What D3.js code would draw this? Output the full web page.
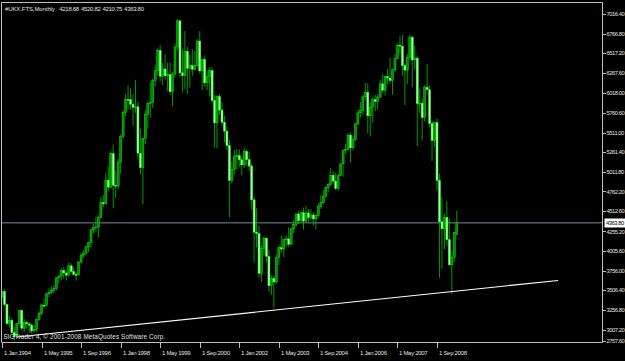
<!DOCTYPE html>
<html>
<head>
<meta charset="utf-8">
<script src="https://cdn.jsdelivr.net/npm/d3@7"></script>
<style>
  html, body { margin: 0; padding: 0; background: #000; }
  svg { display: block; }
  text { font-family: "Liberation Sans", Arial, sans-serif; }
</style>
</head>
<body>
<svg id="chart"></svg>
<script>
// monthly UKX bars, [open, high, low, close], first bar = Jan 1994
const y1994 = [
  [3418.4, 3495.0, 3406.0, 3491.8], [3491.8, 3520.3, 3300.4, 3328.1], [3328.1, 3340.0, 3070.0, 3086.4],
  [3086.4, 3185.0, 3040.0, 3125.3], [3125.3, 3160.0, 2950.0, 2970.5], [2970.5, 3040.0, 2876.6, 2919.2],
  [2919.2, 3090.0, 2900.0, 3082.6], [3082.6, 3260.0, 3070.0, 3251.3], [3251.3, 3260.0, 2990.0, 3026.3],
  [3026.3, 3140.0, 2980.0, 3097.4], [3097.4, 3120.0, 3020.0, 3081.4], [3081.4, 3100.0, 2960.0, 3065.5]
];
const y1995 = [
  [3065.5, 3085.0, 2954.0, 2991.6], [2991.6, 3070.0, 2970.0, 3009.3], [3009.3, 3150.0, 2980.0, 3137.9],
  [3137.9, 3240.0, 3120.0, 3216.7], [3216.7, 3340.0, 3190.0, 3319.4], [3319.4, 3400.0, 3280.0, 3314.6],
  [3314.6, 3480.0, 3300.0, 3463.3], [3463.3, 3530.0, 3420.0, 3477.8], [3477.8, 3560.0, 3460.0, 3508.2],
  [3508.2, 3580.0, 3470.0, 3529.1], [3529.1, 3680.0, 3510.0, 3664.3], [3664.3, 3700.0, 3600.0, 3689.3]
];
const y1996 = [
  [3689.3, 3790.0, 3630.0, 3759.3], [3759.3, 3800.0, 3650.0, 3727.6], [3727.6, 3760.0, 3630.0, 3699.7],
  [3699.7, 3860.0, 3690.0, 3817.9], [3817.9, 3850.0, 3720.0, 3747.8], [3747.8, 3800.0, 3690.0, 3711.0],
  [3711.0, 3740.0, 3630.0, 3703.2], [3703.2, 3880.0, 3700.0, 3867.6], [3867.6, 3980.0, 3840.0, 3953.7],
  [3953.7, 4020.0, 3920.0, 3979.1], [3979.1, 4080.0, 3950.0, 4058.0], [4058.0, 4120.0, 3990.0, 4118.5]
];
const y1997 = [
  [4118.5, 4290.0, 4050.0, 4275.8], [4275.8, 4350.0, 4230.0, 4308.3], [4308.3, 4440.0, 4240.0, 4312.9],
  [4312.9, 4460.0, 4180.0, 4436.0], [4436.0, 4700.0, 4420.0, 4621.3], [4621.3, 4720.0, 4560.0, 4604.6],
  [4604.6, 5000.0, 4600.0, 4907.5], [4907.5, 5080.0, 4760.0, 4817.5], [4817.5, 5270.0, 4800.0, 5244.2],
  [5244.2, 5360.0, 4550.0, 4842.3], [4842.3, 5020.0, 4680.0, 4831.8], [4831.8, 5180.0, 4790.0, 5135.5]
];
const y1998 = [
  [5135.5, 5490.0, 4990.0, 5458.5], [5458.5, 5800.0, 5430.0, 5767.3], [5767.3, 6000.0, 5720.0, 5932.2],
  [5932.2, 6110.0, 5800.0, 5928.3], [5928.3, 6070.0, 5800.0, 5870.7], [5870.7, 6000.0, 5600.0, 5832.5],
  [5832.5, 6180.0, 5760.0, 5837.0], [5837.0, 5900.0, 5180.0, 5249.4], [5249.4, 5560.0, 4980.0, 5064.4],
  [5064.4, 5450.0, 4600.0, 5438.4], [5438.4, 5800.0, 5360.0, 5743.9], [5743.9, 5900.0, 5560.0, 5882.6]
];
const y1999 = [
  [5882.6, 6150.0, 5700.0, 5896.0], [5896.0, 6200.0, 5820.0, 6175.1], [6175.1, 6370.0, 6100.0, 6295.3],
  [6295.3, 6580.0, 6230.0, 6552.2], [6552.2, 6620.0, 6160.0, 6226.2], [6226.2, 6400.0, 6110.0, 6318.5],
  [6318.5, 6510.0, 6180.0, 6231.9], [6231.9, 6400.0, 6040.0, 6246.4], [6246.4, 6400.0, 5990.0, 6029.8],
  [6029.8, 6280.0, 5850.0, 6255.7], [6255.7, 6640.0, 6210.0, 6597.2], [6597.2, 6950.0, 6560.0, 6930.2]
];
const y2000 = [
  [6930.2, 6940.0, 6220.0, 6268.5], [6268.5, 6580.0, 6020.0, 6232.6], [6232.6, 6800.0, 6060.0, 6540.2],
  [6540.2, 6600.0, 6000.0, 6327.4], [6327.4, 6500.0, 6080.0, 6359.3], [6359.3, 6570.0, 6230.0, 6312.7],
  [6312.7, 6550.0, 6300.0, 6365.3], [6365.3, 6700.0, 6340.0, 6672.7], [6672.7, 6800.0, 6260.0, 6294.2],
  [6294.2, 6450.0, 6050.0, 6438.4], [6438.4, 6490.0, 6090.0, 6142.2], [6142.2, 6300.0, 6050.0, 6222.5]
];
const y2001 = [
  [6222.5, 6340.0, 5970.0, 6297.5], [6297.5, 6340.0, 5880.0, 5917.9], [5917.9, 5990.0, 5320.0, 5633.7],
  [5633.7, 5990.0, 5310.0, 5966.9], [5966.9, 6000.0, 5730.0, 5796.1], [5796.1, 5900.0, 5600.0, 5642.5],
  [5642.5, 5720.0, 5390.0, 5529.1], [5529.1, 5590.0, 5290.0, 5345.0], [5345.0, 5420.0, 4433.0, 4903.4],
  [4903.4, 5140.0, 4860.0, 5039.7], [5039.7, 5290.0, 4970.0, 5203.6], [5203.6, 5300.0, 5040.0, 5217.4]
];
const y2002 = [
  [5217.4, 5300.0, 5070.0, 5164.8], [5164.8, 5200.0, 4970.0, 5101.0], [5101.0, 5320.0, 5060.0, 5271.8],
  [5271.8, 5300.0, 5080.0, 5165.6], [5165.6, 5270.0, 5020.0, 5085.1], [5085.1, 5120.0, 4530.0, 4656.4],
  [4656.4, 4690.0, 3860.0, 4246.2], [4246.2, 4550.0, 4050.0, 4227.3], [4227.3, 4330.0, 3670.0, 3721.8],
  [3721.8, 4080.0, 3610.0, 4039.7], [4039.7, 4190.0, 3960.0, 4169.4], [4169.4, 4180.0, 3860.0, 3940.4]
];
const y2003 = [
  [3940.4, 4020.0, 3490.0, 3567.4], [3567.4, 3700.0, 3450.0, 3655.6], [3655.6, 3690.0, 3277.5, 3613.3],
  [3613.3, 3960.0, 3590.0, 3926.0], [3926.0, 4070.0, 3830.0, 4048.1], [4048.1, 4200.0, 3980.0, 4031.2],
  [4031.2, 4160.0, 3930.0, 4157.0], [4157.0, 4200.0, 4060.0, 4161.1], [4161.1, 4310.0, 4060.0, 4091.3],
  [4091.3, 4300.0, 4080.0, 4287.6], [4287.6, 4400.0, 4230.0, 4342.6], [4342.6, 4480.0, 4310.0, 4476.9]
];
const y2004 = [
  [4476.9, 4520.0, 4350.0, 4390.7], [4390.7, 4520.0, 4370.0, 4492.2], [4492.2, 4560.0, 4280.0, 4385.7],
  [4385.7, 4580.0, 4380.0, 4489.7], [4489.7, 4540.0, 4360.0, 4430.7], [4430.7, 4540.0, 4400.0, 4464.1],
  [4464.1, 4500.0, 4330.0, 4413.1], [4413.1, 4480.0, 4280.0, 4459.3], [4459.3, 4610.0, 4430.0, 4570.8],
  [4570.8, 4720.0, 4540.0, 4624.2], [4624.2, 4780.0, 4600.0, 4703.2], [4703.2, 4830.0, 4680.0, 4814.3]
];
const y2005 = [
  [4814.3, 4870.0, 4750.0, 4852.3], [4852.3, 5060.0, 4840.0, 4968.5], [4968.5, 5020.0, 4860.0, 4894.4],
  [4894.4, 5000.0, 4780.0, 4801.7], [4801.7, 4990.0, 4770.0, 4964.0], [4964.0, 5120.0, 4960.0, 5113.2],
  [5113.2, 5290.0, 4950.0, 5282.3], [5282.3, 5370.0, 5240.0, 5296.9], [5296.9, 5500.0, 5280.0, 5477.7],
  [5477.7, 5510.0, 5130.0, 5317.3], [5317.3, 5470.0, 5290.0, 5423.2], [5423.2, 5640.0, 5400.0, 5618.8]
];
const y2006 = [
  [5618.8, 5800.0, 5610.0, 5760.3], [5760.3, 5900.0, 5700.0, 5791.5], [5791.5, 5990.0, 5730.0, 5964.6],
  [5964.6, 6140.0, 5920.0, 6023.1], [6023.1, 6140.0, 5500.0, 5723.8], [5723.8, 5900.0, 5460.0, 5833.4],
  [5833.4, 5960.0, 5630.0, 5928.3], [5928.3, 5990.0, 5780.0, 5906.1], [5906.1, 6000.0, 5800.0, 5960.8],
  [5960.8, 6180.0, 5950.0, 6129.2], [6129.2, 6250.0, 6010.0, 6048.8], [6048.8, 6230.0, 5980.0, 6220.8]
];
const y2007 = [
  [6220.8, 6320.0, 6130.0, 6203.1], [6203.1, 6460.0, 6130.0, 6171.5], [6171.5, 6320.0, 5990.0, 6308.0],
  [6308.0, 6510.0, 6280.0, 6449.2], [6449.2, 6640.0, 6440.0, 6621.4], [6621.4, 6740.0, 6510.0, 6607.9],
  [6607.9, 6750.0, 6230.0, 6360.1], [6360.1, 6390.0, 5860.0, 6303.3], [6303.3, 6510.0, 6130.0, 6466.8],
  [6466.8, 6750.0, 6430.0, 6721.6], [6721.6, 6740.0, 6090.0, 6432.5], [6432.5, 6610.0, 6310.0, 6456.9]
];
const y2008 = [
  [6456.9, 6480.0, 5340.0, 5879.8], [5879.8, 6070.0, 5760.0, 5884.3], [5884.3, 5940.0, 5410.0, 5702.1],
  [5702.1, 6110.0, 5650.0, 6087.3], [6087.3, 6380.0, 6050.0, 6053.5], [6053.5, 6110.0, 5580.0, 5625.9],
  [5625.9, 5660.0, 5150.0, 5411.9], [5411.9, 5640.0, 5330.0, 5636.6], [5636.6, 5690.0, 4780.0, 4902.5],
  [4902.5, 4990.0, 3665.0, 4377.3], [4377.3, 4690.0, 3780.0, 4288.0], [4288.0, 4480.0, 4030.0, 4434.2]
];
const y2009 = [
  [4434.2, 4640.0, 4070.0, 4149.6], [4149.6, 4420.0, 3830.0, 3830.1], [3830.1, 4010.0, 3460.0, 3926.1],
  [3926.1, 4250.0, 3860.0, 4243.7], [4218.68, 4520.82, 4210.75, 4363.80]
];

const symbol = "#UKX.FTS,Monthly";
const lastQuote = ["4218.68", "4520.82", "4210.75", "4363.80"];
const bidPrice = 4363.80;

const priceTicks = [7016.40, 6766.80, 6517.20, 6267.60, 6018.00, 5760.60, 5511.00, 5261.40, 5011.80,
  4762.20, 4512.60, 4255.20, 4005.60, 3756.00, 3506.40, 3256.80, 3007.20, 2757.60];

// bar index of each date label (16 bars apart)
const timeTicks = [
  [0, "1 Jan 1994"], [16, "1 May 1995"], [32, "1 Sep 1996"], [48, "1 Jan 1998"],
  [64, "1 May 1999"], [80, "1 Sep 2000"], [96, "1 Jan 2002"], [112, "1 May 2003"],
  [128, "1 Sep 2004"], [144, "1 Jan 2006"], [160, "1 May 2007"], [176, "1 Sep 2008"]
];

// support trendline, [bar index, price]
const trendLine = [[6.1, 2914], [225, 3632]];

const copyright = "SIGTrader 4, \u00a9 2001-2008 MetaQuotes Software Corp.";

const bars = [].concat(y1994, y1995, y1996, y1997, y1998, y1999, y2000, y2001,
  y2002, y2003, y2004, y2005, y2006, y2007, y2008, y2009);

const W = 625, H = 361;
const pLeft = 1, pTop = 2, pRight = 602, pBottom = 342;

const svg = d3.select("#chart").attr("width", W).attr("height", H);
svg.append("rect").attr("width", W).attr("height", H).attr("fill", "#000");

const x = d3.scaleLinear().domain([0, 176]).range([2, 437]);
const y = d3.scaleLinear().domain([2850.8, 7168.8]).range([pBottom, pTop]);

svg.append("clipPath").attr("id", "plot")
  .append("rect").attr("x", pLeft).attr("y", pTop).attr("width", pRight - pLeft).attr("height", pBottom - pTop);

const plot = svg.append("g").attr("clip-path", "url(#plot)");

// bid line
plot.append("line")
  .attr("x1", pLeft).attr("x2", pRight)
  .attr("y1", y(bidPrice)).attr("y2", y(bidPrice))
  .attr("stroke", "#778899").attr("stroke-width", 1);

// candles: lime wicks, dark bull bodies, pale bear bodies
const up = d => d[3] >= d[0];
const candle = plot.selectAll("g.bar").data(bars).enter().append("g");
candle.append("line")
  .attr("x1", (d, i) => x(i)).attr("x2", (d, i) => x(i))
  .attr("y1", d => y(d[1])).attr("y2", d => y(d[2]))
  .attr("stroke", "#00c000").attr("stroke-width", 0.8);
candle.append("rect")
  .attr("x", (d, i) => x(i) - 1)
  .attr("width", 2)
  .attr("y", d => y(Math.max(d[0], d[3])))
  .attr("height", d => Math.max(1, Math.abs(y(d[0]) - y(d[3]))))
  .attr("fill", d => up(d) ? "#008c00" : "#a8ffa8")
  .attr("stroke", d => up(d) ? "#10e010" : "#20ff20")
  .attr("stroke-width", 0.5);

// trendline
plot.append("line")
  .attr("x1", x(trendLine[0][0])).attr("y1", y(trendLine[0][1]))
  .attr("x2", x(trendLine[1][0])).attr("y2", y(trendLine[1][1]))
  .attr("stroke", "#ffffff").attr("stroke-width", 1.2);

// frame
svg.append("path")
  .attr("d", `M${pRight + 0.5},${pBottom + 0.5} H${pLeft + 0.5} V${pTop + 0.5} H${pRight + 0.5} V${pBottom + 0.5}`)
  .attr("fill", "none").attr("stroke", "#c0c0c0").attr("stroke-width", 1);

// price axis
const yAxis = svg.append("g");
priceTicks.forEach(p => {
  const py = Math.min(y(p), pBottom - 1.5);
  yAxis.append("line").attr("x1", pRight + 1).attr("x2", pRight + 4)
    .attr("y1", Math.round(py) + 0.5).attr("y2", Math.round(py) + 0.5)
    .attr("stroke", "#c0c0c0");
  yAxis.append("text").attr("x", pRight + 4.5).attr("y", py + 2.1)
    .attr("fill", "#e0e0e0").attr("font-size", 5.8).attr("letter-spacing", -0.45)
    .text(p.toFixed(2));
});

// bid label
const by = y(bidPrice);
yAxis.append("rect").attr("x", pRight + 2.5).attr("y", Math.round(by) - 4.5)
  .attr("width", 22).attr("height", 9).attr("fill", "#ffffff");
yAxis.append("text").attr("x", pRight + 4).attr("y", by + 2.1)
  .attr("fill", "#000").attr("font-size", 5.8).attr("letter-spacing", -0.45)
  .text(bidPrice.toFixed(2));

// time axis
const xAxis = svg.append("g");
timeTicks.forEach(t => {
  const tx = Math.round(x(t[0])) + 0.5;
  xAxis.append("line").attr("x1", tx).attr("x2", tx)
    .attr("y1", pBottom + 1).attr("y2", pBottom + 6).attr("stroke", "#c0c0c0");
  xAxis.append("text").attr("x", tx + 1.5).attr("y", pBottom + 13)
    .attr("fill", "#e0e0e0").attr("font-size", 6).attr("letter-spacing", -0.3)
    .text(t[1]);
});

// header and footer text
svg.append("text").attr("x", 5).attr("y", 11)
  .attr("fill", "#e0e0e0").attr("font-size", 6).attr("letter-spacing", -0.1)
  .text(symbol);
lastQuote.forEach((q, i) => {
  svg.append("text").attr("x", 59.3 + i * 21.6).attr("y", 11)
    .attr("fill", "#e0e0e0").attr("font-size", 6).attr("letter-spacing", -0.3)
    .text(q);
});
svg.append("text").attr("x", 3.5).attr("y", pBottom - 3)
  .attr("fill", "#e0e0e0").attr("font-size", 6.3).attr("letter-spacing", 0.15)
  .text(copyright);
</script>
</body>
</html>
